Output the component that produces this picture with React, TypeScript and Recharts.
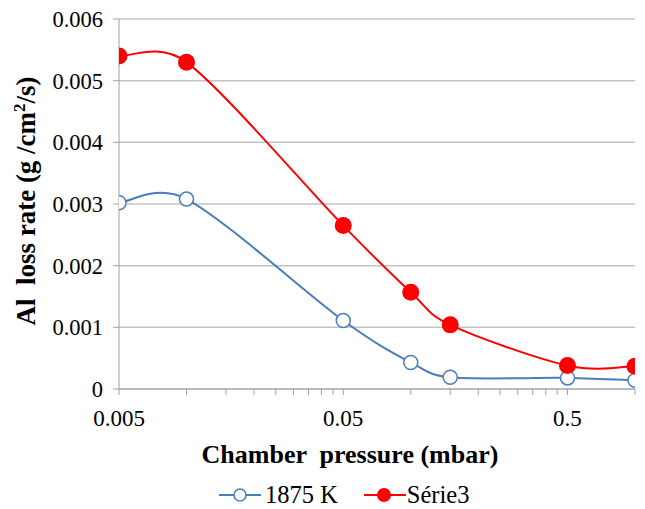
import { LineChart, Line, XAxis, YAxis, CartesianGrid, Legend, Label } from "recharts";

const pressure = [0.005, 0.01, 0.05, 0.1, 0.15, 0.5, 1.0];
const rate1875K = [0.00302, 0.00308, 0.00111, 0.00043, 0.00019, 0.00018, 0.00014];
const rateSerie3 = [0.0054, 0.0053, 0.00265, 0.00157, 0.00104, 0.00038, 0.00037];

const xTicks = [
  0.005, 0.01, 0.015, 0.02, 0.025, 0.03, 0.035, 0.04, 0.045,
  0.05, 0.1, 0.15, 0.2, 0.25, 0.3, 0.35, 0.4, 0.45,
  0.5, 1.0,
];
const xLabels = ["0.005", "0.05", "0.5"];
const yTicks = [0, 0.001, 0.002, 0.003, 0.004, 0.005, 0.006];

const data = pressure.map((p, i) => ({ p, a: rate1875K[i], b: rateSerie3[i] }));

const FONT = '"Liberation Serif", "Times New Roman", serif';
const BLUE = "#4a7ebb";
const RED = "#ff0000";

// Excel-style smoothed line: bezier with tangent/6 handles, clamped to half the segment
function excelCurve(context: any) {
  let pts: number[][] = [];
  const dist = (a: number[], b: number[]) => Math.hypot(b[0] - a[0], b[1] - a[1]);
  const handle = (prev: number[], cur: number[], next: number[], side: number[]) => {
    const tx = next[0] - prev[0];
    const ty = next[1] - prev[1];
    const len = Math.hypot(tx, ty);
    if (!len) return [0, 0];
    const h = Math.min(len / 6, dist(cur, side) / 2);
    return [(tx / len) * h, (ty / len) * h];
  };
  return {
    areaStart() {},
    areaEnd() {},
    lineStart() {
      pts = [];
    },
    lineEnd() {
      const n = pts.length;
      if (!n) return;
      context.moveTo(pts[0][0], pts[0][1]);
      for (let i = 0; i < n - 1; i++) {
        const p0 = pts[Math.max(i - 1, 0)];
        const p1 = pts[i];
        const p2 = pts[i + 1];
        const p3 = pts[Math.min(i + 2, n - 1)];
        const h1 = handle(p0, p1, p2, p2);
        const h2 = handle(p1, p2, p3, p1);
        context.bezierCurveTo(p1[0] + h1[0], p1[1] + h1[1], p2[0] - h2[0], p2[1] - h2[1], p2[0], p2[1]);
      }
    },
    point(x: number, y: number) {
      pts.push([+x, +y]);
    },
  };
}

function LegendContent() {
  return (
    <div
      style={{
        display: "flex",
        alignItems: "center",
        height: 26,
        lineHeight: "26px",
        fontFamily: FONT,
        fontSize: 24.5,
        color: "#000",
        paddingLeft: 219,
      }}
    >
      <svg width={42} height={20}>
        <line x1={0} y1={10} x2={42} y2={10} stroke={BLUE} strokeWidth={2} />
        <circle cx={21} cy={10} r={6} fill="#fff" stroke={BLUE} strokeWidth={1.5} />
      </svg>
      <span style={{ marginLeft: 4 }}>1875 K</span>
      <svg width={42} height={20} style={{ marginLeft: 26 }}>
        <line x1={0} y1={10} x2={42} y2={10} stroke={RED} strokeWidth={2} />
        <circle cx={20} cy={10} r={7} fill={RED} />
      </svg>
      <span style={{ marginLeft: 1 }}>Série3</span>
    </div>
  );
}

export default function App() {
  return (
    <div style={{ position: "absolute", left: 0, top: 0, width: 645, height: 509, background: "#fff" }}>
      <LineChart width={645} height={509} data={data} margin={{ top: 19, right: 10, left: 0, bottom: 0 }}>
        <CartesianGrid vertical={false} stroke="#c4c4c4" strokeWidth={1.5} />
        <XAxis
          dataKey="p"
          type="number"
          scale="log"
          domain={[0.005, 1]}
          allowDataOverflow
          ticks={xTicks}
          interval={0}
          height={94}
          stroke="#a0a0a0"
          tickSize={6}
          tickMargin={15}
          tick={{ fill: "#000", fontSize: 23, fontFamily: FONT }}
          tickFormatter={(v: number) => {
            const s = String(+v.toFixed(3));
            return xLabels.includes(s) ? s : "";
          }}
        >
          <Label
            content={() => (
              <text x={350} y={463} textAnchor="middle" fontFamily={FONT} fontWeight="bold" fontSize={26} fill="#000" style={{ whiteSpace: "pre" }}>
                Chamber  pressure (mbar)
              </text>
            )}
          />
        </XAxis>
        <YAxis
          type="number"
          domain={[0, 0.006]}
          ticks={yTicks}
          width={119}
          stroke="#a0a0a0"
          tickSize={6}
          tickMargin={10}
          tick={{ fill: "#000", fontSize: 22.5, fontFamily: FONT }}
          tickFormatter={(v: number) => (v === 0 ? "0" : v.toFixed(3))}
        >
          <Label
            content={() => (
              <text
                transform="translate(35, 201) rotate(-90)"
                textAnchor="middle"
                fontFamily={FONT}
                fontWeight="bold"
                fontSize={27}
                fill="#000"
                style={{ whiteSpace: "pre" }}
              >
                Al  loss rate (g /cm<tspan dy={-10} fontSize={17}>2</tspan><tspan dy={10}>/s)</tspan>
              </text>
            )}
          />
        </YAxis>
        <Legend verticalAlign="bottom" height={26} wrapperStyle={{ left: 0, width: 645, top: 482, height: 26 }} content={() => <LegendContent />} />
        <Line
          dataKey="a"
          name="1875 K"
          type={excelCurve as any}
          stroke={BLUE}
          strokeWidth={2}
          dot={{ r: 7, fill: "#fff", stroke: BLUE, strokeWidth: 1.5 }}
          isAnimationActive={false}
        />
        <Line
          dataKey="b"
          name="Série3"
          type={excelCurve as any}
          stroke={RED}
          strokeWidth={2}
          dot={{ r: 8.5, fill: RED, stroke: RED, strokeWidth: 0 }}
          isAnimationActive={false}
        />
      </LineChart>
    </div>
  );
}
